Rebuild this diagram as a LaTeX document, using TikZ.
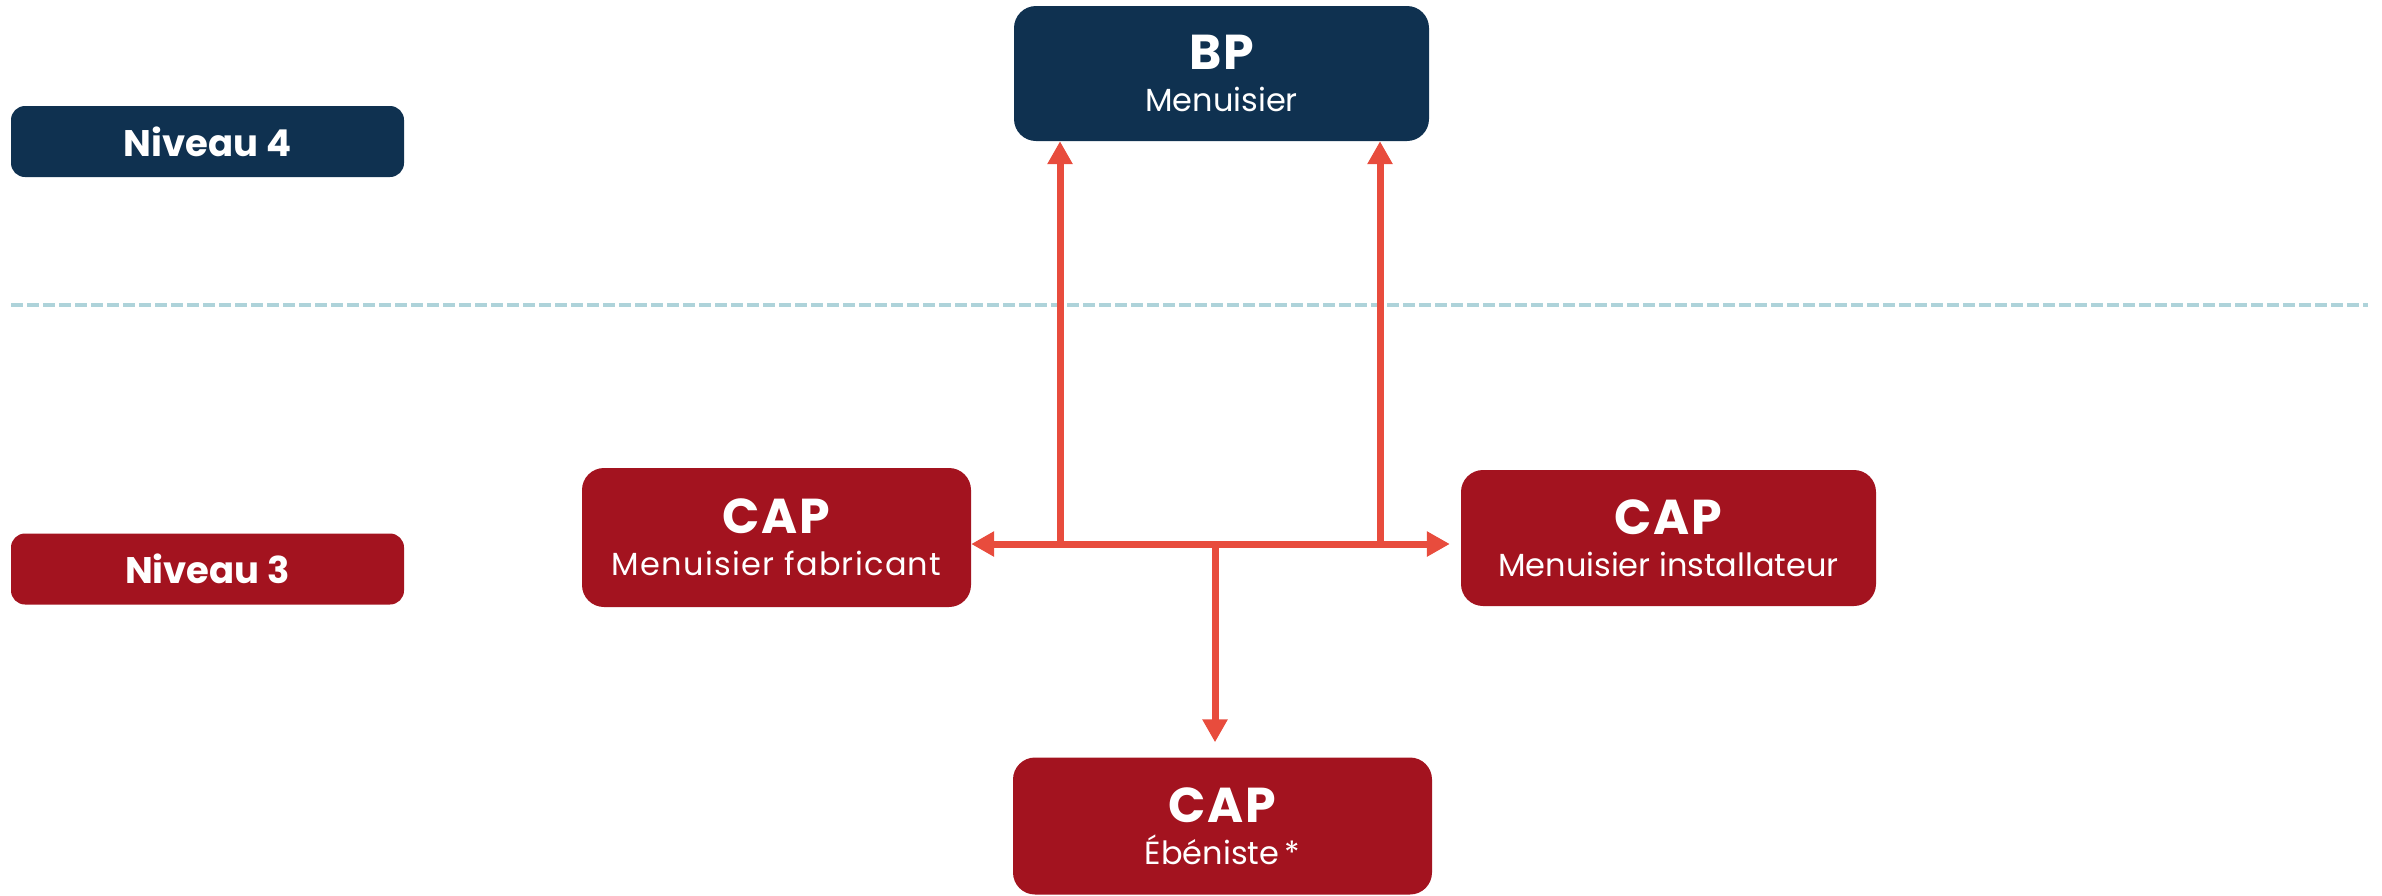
\documentclass[tikz,border=0pt]{standalone}
\usepackage{fontspec}
\setmainfont{Poppins}
\usetikzlibrary{arrows.meta}
\definecolor{navy}{HTML}{0F3150}
\definecolor{wine}{HTML}{A3131F}
\definecolor{flame}{HTML}{E84C3D}
\definecolor{sky}{HTML}{AED3DA}
\newcommand{\grade}[1]{{\fontsize{49}{41}\selectfont\bfseries\addfontfeature{LetterSpace=4}#1}}
\newcommand{\spaced}[1]{{\addfontfeature{LetterSpace=4}#1}}
\tikzset{
 >={Triangle[width=24pt,length=23pt]},
 diploma/.style={rounded corners=22pt, text=white, align=center, inner sep=0pt,
   font=\fontsize{32}{42}\selectfont},
 level/.style={rounded corners=14pt, text=white, inner sep=0pt,
   minimum width=393pt, minimum height=71pt, font=\fontsize{37}{40}\selectfont\bfseries},
 flow/.style={draw=flame, line width=7pt},
}
\begin{document}
\begin{tikzpicture}[x=1pt,y=-1pt]
 \useasboundingbox (0,0) rectangle (2382,895);
 % levels
 \node[level, fill=navy] (n4) at (207.5,141.5) {Niveau 4};
 \node[level, fill=wine] (n3) at (207.5,569) {Niveau 3};
 \draw[sky, line width=4pt, dash pattern=on 12pt off 4pt] (11,305) -- (2368,305);
 % diplomas
 \node[diploma, fill=navy, minimum width=415pt, minimum height=135pt] (bp) at (1221.5,73.5) {\grade{BP}\\Menuisier};
 \node[diploma, fill=wine, minimum width=389pt, minimum height=139pt] (fab) at (776.5,537.5) {\grade{CAP}\\\spaced{Menuisier fabricant}};
 \node[diploma, fill=wine, minimum width=415pt, minimum height=136pt] (inst) at (1668.5,538) {\grade{CAP}\\Menuisier installateur};
 \node[diploma, fill=wine, minimum width=419pt, minimum height=137pt] (ebe) at (1222.5,826) {\grade{CAP}\\Ébéniste\,*};
 % arrows
 \coordinate (jl) at (1060,544);
 \coordinate (jr) at (1380,544);
 \coordinate (jd) at (1215,544);
 \draw[flow, <->, shorten >=11pt] (fab.east |- jl) -- (inst.west |- jl);
 \draw[flow, ->] (jl) -- (jl |- bp.south);
 \draw[flow, ->] (jr) -- (jr |- bp.south);
 \draw[flow, ->, shorten >=15pt] (jd) -- (jd |- ebe.north);
\end{tikzpicture}
\end{document}
